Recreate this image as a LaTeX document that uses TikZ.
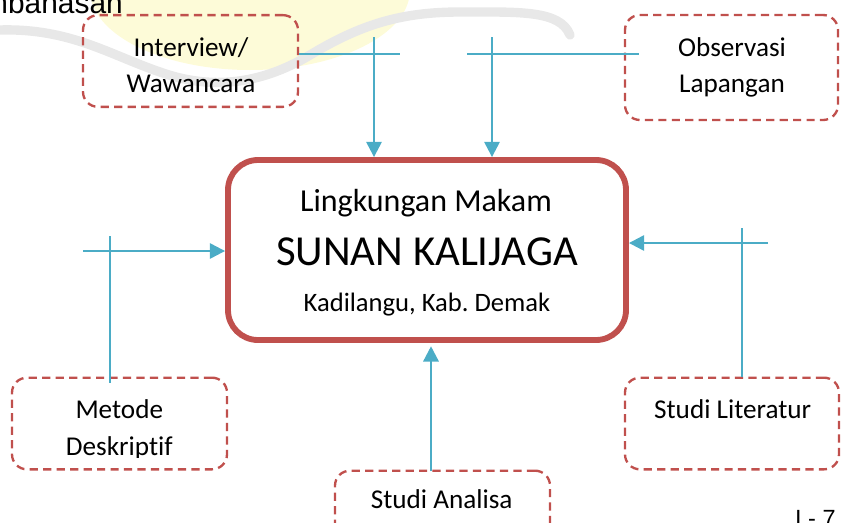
\documentclass[tikz,border=0pt]{standalone}
\usepackage{fontspec}
\setmainfont{Carlito}[Ligatures=NoCommon]
\newfontfamily\headfont{Liberation Sans}
\usetikzlibrary{arrows.meta,positioning}
\definecolor{boxred}{HTML}{C0504D}
\definecolor{flowblue}{HTML}{4BACC6}
\definecolor{markyellow}{HTML}{FDFBD8}
\tikzset{
  dashbox/.style={draw=boxred, line width=2pt, dash pattern=on 7pt off 4.5pt,
    rounded corners=0.45cm, minimum width=6.45cm, minimum height=2.75cm},
  mainbox/.style={draw=boxred, line width=5pt, rounded corners=0.9cm,
    minimum width=11.94cm, minimum height=5.4cm},
  flow/.style={draw=flowblue, line width=2pt},
  flowarr/.style={flow, -{Triangle[length=13pt,width=13pt]}},
  boxtext/.style={font=\fontsize{23.2}{28}\selectfont, inner sep=0pt, anchor=base},
}

\begin{document}
\frenchspacing
\begin{tikzpicture}[x=0.03cm,y=-0.03cm]
\useasboundingbox (0,0) rectangle (841,522);
\clip (0,0) rectangle (841,522);
% faint watermark behind the page
\fill[markyellow] (250,-10) ellipse [x radius=160, y radius=80];
\draw[gray!18, line width=8pt, line cap=round]
  (0,30) .. controls (70,28) and (110,55) .. (160,72)
  .. controls (210,90) and (260,85) .. (310,55)
  .. controls (360,25) and (400,12) .. (460,12)
  .. controls (520,12) and (560,10) .. (570,35);
\node[font=\headfont\fontsize{25.5}{30}\selectfont, anchor=base east, inner sep=0pt] (hdr) at (123,13) {Pembahasan};
\node[font=\headfont\fontsize{20}{24}\selectfont, anchor=north west, inner sep=0pt] (pageno) at (795,510) {I - 7};

% central box
\node[mainbox] (main) at (427,250) {};
\node[font=\fontsize{27.3}{32}\selectfont, anchor=base, inner sep=0pt] (place) at (426,211.5) {Lingkungan Makam};
\node[font=\fontsize{36.5}{42}\selectfont, anchor=base, inner sep=0pt] (name) at (427,265) {SUNAN KALIJAGA};
\node[font=\fontsize{22.7}{27}\selectfont, anchor=base, inner sep=0pt] (town) at (427,311.5) {Kadilangu, Kab. Demak};

% source boxes
\node[dashbox] (iv) at (190.5,61) {};
\node[boxtext] (ivtext) at (191,56) {Interview/};
\node[boxtext] (ivtext2) at (191,92.7) {Wawancara};

\node[dashbox, minimum width=6.39cm, minimum height=3.15cm] (ob) at (731.5,67.5) {};
\node[boxtext] (obtext) at (732,56.7) {Observasi};
\node[boxtext] (obtext2) at (732,92.7) {Lapangan};

\node[dashbox] (md) at (119.5,423.5) {};
\node[boxtext] (mdtext) at (119.3,418.3) {Metode};
\begin{scope}
  \clip (0,380) rectangle (300,457.5);
  \node[boxtext] (mdtext2) at (119.3,455) {Deskriptif};
\end{scope}

\node[dashbox, minimum width=6.42cm] (sl) at (732,423.5) {};
\node[boxtext] (sltext) at (732.7,418.3) {Studi Literatur};

\node[dashbox] (sa) at (442.5,516.5) {};
\node[boxtext] (satext) at (441.7,508.3) {Studi Analisa};

% connectors
\coordinate (ivend) at (400,54);
\coordinate (ivtop) at (374,37);
\draw[flow] (iv.east |- ivend) -- (ivend);
\draw[flowarr] (ivtop) -- (ivtop |- main.north);

\coordinate (obend) at (467,54);
\coordinate (obtop) at (492,37);
\draw[flow] (obend) -- ([xshift=0.45cm]ob.west |- obend);
\draw[flowarr] (obtop) -- (obtop |- main.north);

\coordinate (mdend) at (83,251);
\coordinate (mdtop) at (110,236);
\draw[flowarr] (mdend) -- (mdend -| main.west);
\draw[flow] (mdtop) -- ([yshift=-0.18cm]mdtop |- md.north);

\coordinate (slend) at (768,243);
\coordinate (sltop) at (742,228);
\draw[flowarr] (slend) -- (slend -| main.east);
\draw[flow] (sltop) -- (sltop |- sl.north);

\coordinate (safoot) at (431,471);
\draw[flowarr] (safoot) -- ([yshift=-0.1cm]safoot |- main.south);
\end{tikzpicture}
\end{document}
